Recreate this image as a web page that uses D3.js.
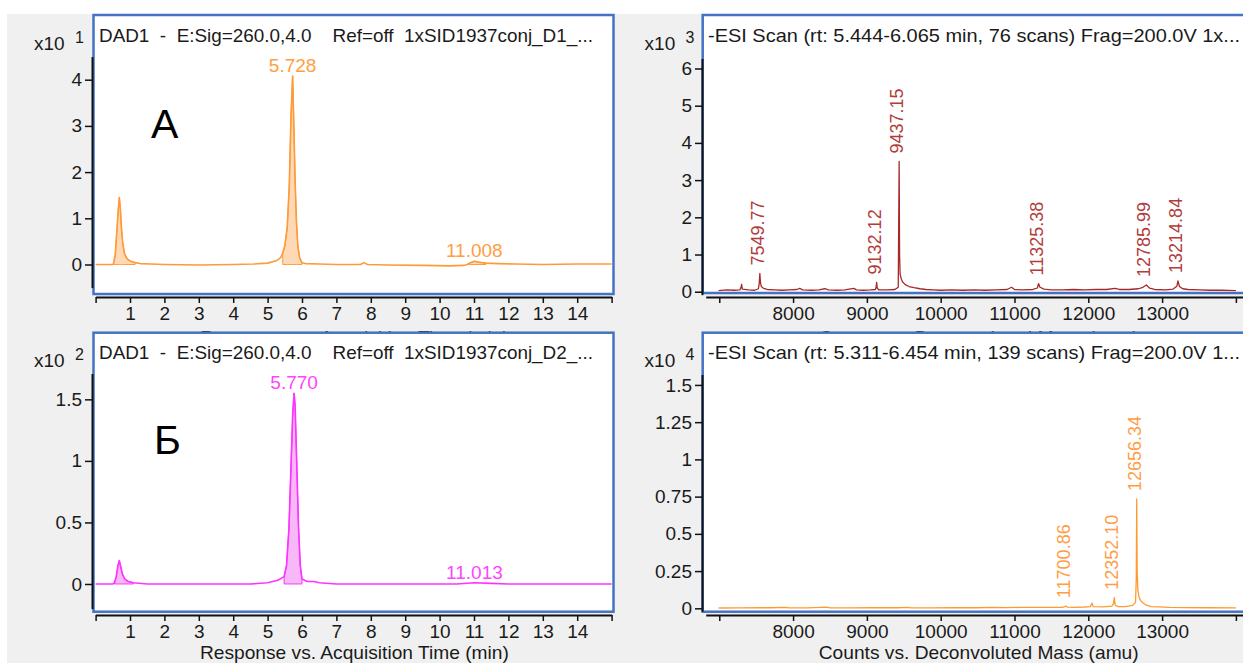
<!DOCTYPE html>
<html>
<head>
<meta charset="utf-8">
<script src="https://cdn.jsdelivr.net/npm/d3@7"></script>
<style>
  html, body { margin: 0; padding: 0; background: #fff; }
  svg { display: block; font-family: "Liberation Sans", Arial, sans-serif; }
  text { white-space: pre; }
</style>
</head>
<body>
<svg id="chart" width="1243" height="663"></svg>
<script>
// ---------- data ----------
// UV chromatogram A, response x10^1 vs time (min)
const chromA = [[0,0],[0.3,0],[0.5,0],[0.52,0.02],[0.57,0.2],[0.62,0.75],[0.66,1.2],[0.69,1.45],[0.72,1.2],[0.75,0.8],
  [0.79,0.45],[0.84,0.24],[0.89,0.15],[0.95,0.1],[1.03,0.07],[1.15,0.04],[1.3,0.02],[1.6,0.01],[2.0,0],[3.0,-0.01],
  [4.0,0],[4.6,0.01],[5.0,0.03],[5.25,0.08],[5.38,0.15],[5.44,0.25],[5.5,0.4],[5.57,0.8],[5.63,1.7],[5.68,3.2],
  [5.76,3.1],[5.8,1.8],[5.84,0.9],[5.88,0.4],[5.93,0.15],[6.0,0.04],[6.1,0.02],[6.5,0.01],[7.0,0],[7.7,0],
  [7.8,0.04],[7.9,0],[8.5,-0.01],[9.5,-0.02],[10.3,-0.03],[10.7,-0.02],[10.8,0],[10.9,0.04],[11.15,0.05],
  [11.35,0.03],[11.7,0.02],[12.2,0.01],[13,0],[14,0.01],[15,0.01]];
const peaksA = [[5.728, 4.08], [11.008, 0.07]];
const fillsA = [[0.52, 1.15], [5.44, 6.0], [10.8, 11.35]];

// UV chromatogram Б, response x10^2 vs time (min)
const chromB = [[0,0],[0.5,0],[0.55,0.01],[0.6,0.06],[0.65,0.15],[0.69,0.19],[0.73,0.14],[0.78,0.08],[0.85,0.04],
  [0.95,0.02],[1.1,0.01],[1.5,0],[4.5,0],[5.0,0.01],[5.3,0.03],[5.48,0.06],[5.55,0.15],[5.62,0.45],[5.68,0.95],
  [5.73,1.38],[5.8,1.45],[5.85,0.95],[5.9,0.45],[5.95,0.15],[6.0,0.04],[6.15,0.02],[6.35,0.02],[6.5,0.01],
  [7,0],[9,0],[10.5,0],[11.5,0.005],[12,0],[15,0]];
const peaksB = [[5.770, 1.55], [11.013, 0.01]];
const fillsB = [[0.55, 1.1], [5.48, 6.0]];

// Deconvoluted spectrum, top (counts x10^3 vs mass, amu)
const specTop = [[6990,0.03],[7100,0.05],[7200,0.04],[7280,0.05],[7295,0.12],[7303,0.2],[7312,0.07],[7400,0.05],
  [7480,0.04],[7530,0.08],[7540,0.2],[7558,0.25],[7570,0.14],[7600,0.09],[7650,0.06],[7750,0.05],[7850,0.04],
  [7950,0.05],[8050,0.06],[8090,0.09],[8130,0.05],[8250,0.04],[8350,0.05],[8430,0.08],[8480,0.05],[8600,0.04],
  [8700,0.05],[8823,0.09],[8860,0.05],[8950,0.04],[9050,0.05],[9115,0.06],[9125,0.12],[9140,0.1],[9160,0.05],
  [9280,0.05],[9380,0.06],[9425,0.12],[9443,1.0],[9450,0.48],[9465,0.35],[9485,0.26],[9520,0.19],[9570,0.14],
  [9640,0.11],[9720,0.08],[9800,0.06],[9900,0.05],[10000,0.04],[10150,0.05],[10300,0.04],[10450,0.05],
  [10600,0.04],[10750,0.05],[10900,0.06],[10960,0.12],[11000,0.06],[11100,0.05],[11250,0.06],[11310,0.1],
  [11345,0.12],[11400,0.07],[11500,0.05],[11650,0.05],[11800,0.06],[11950,0.05],[12100,0.06],[12250,0.06],
  [12360,0.09],[12420,0.06],[12550,0.06],[12680,0.08],[12740,0.12],[12830,0.1],[12900,0.06],[13050,0.05],
  [13150,0.07],[13200,0.15],[13235,0.14],[13280,0.08],[13350,0.06],[13500,0.05],[13650,0.04],[13800,0.04],[14000,0.03]];
const specTopPeaks = [[7549.77,0.49],[9132.12,0.25],[9437.15,3.5],[11325.38,0.22],[12785.99,0.18],[13214.84,0.29]];

// Deconvoluted spectrum, bottom (counts x10^4 vs mass, amu)
const specBot = [[6990,0.002],[7300,0.003],[7700,0.004],[7900,0.006],[7950,0.003],[8200,0.003],[8450,0.008],
  [8500,0.003],[8800,0.003],[9100,0.004],[9450,0.004],[9550,0.007],[9600,0.003],[9900,0.003],[10200,0.004],
  [10500,0.004],[10700,0.006],[10900,0.005],[11100,0.006],[11300,0.006],[11500,0.007],[11650,0.007],
  [11715,0.008],[11800,0.007],[11950,0.009],[12030,0.012],[12050,0.035],[12065,0.012],[12200,0.01],
  [12320,0.015],[12340,0.03],[12365,0.02],[12400,0.012],[12500,0.012],[12600,0.02],[12640,0.04],[12650,0.2],
  [12662,0.25],[12672,0.12],[12690,0.07],[12720,0.045],[12770,0.025],[12850,0.012],[12950,0.01],
  [13100,0.006],[13300,0.005],[13600,0.004],[14000,0.003]];
const specBotPeaks = [[11700.86,0.015],[12352.10,0.071],[12656.34,0.734]];

// axis ticks
const timeTicks = d3.range(0, 16);
const timeTickLabels = timeTicks.map(t => (t >= 1 && t <= 14) ? String(t) : "");
const massTicks = d3.range(7000, 15001, 1000);
const massTickLabels = massTicks.map(m => (m >= 8000 && m <= 13000) ? String(m) : "");
const yTicksA = [0, 1, 2, 3, 4];
const yTicksB = [0, 0.5, 1, 1.5];
const yTicksSpecTop = [0, 1, 2, 3, 4, 5, 6];
const yTicksSpecBot = [0, 0.25, 0.5, 0.75, 1, 1.25, 1.5];

// ---------- drawing ----------
const svg = d3.select("#chart");
const FONT = 19;
svg.append("rect").attr("width", 1243).attr("height", 663).attr("fill", "#fff");
svg.append("rect").attr("x", 7).attr("y", 14).attr("width", 1236).attr("height", 649).attr("fill", "#f0f0f0");

const withPeaks = (base, peaks) => d3.sort(base.concat(peaks), d => d[0]);

let clipId = 0;
function panel(cfg) {
  const g = svg.append("g");
  const [bx, by, bw, bh] = cfg.box;
  const x = d3.scaleLinear().domain(cfg.xDomain).range(cfg.xRange);
  const y = d3.scaleLinear().domain(cfg.yDomain).range(cfg.yRange);

  // x title; the upper row's title is cut off by the frame of the row below
  const tg = g.append("g");
  if (cfg.titleClipBottom) {
    const tid = "tclip" + (clipId++);
    g.append("clipPath").attr("id", tid).append("rect")
      .attr("x", 0).attr("y", 0).attr("width", 1243).attr("height", cfg.titleClipBottom);
    tg.attr("clip-path", `url(#${tid})`);
  }
  tg.append("text").attr("x", (cfg.xRange[0] + cfg.xRange[1]) / 2 + cfg.titleShift).attr("y", cfg.xAxisY + cfg.xTitleDy)
    .attr("text-anchor", "middle").attr("font-size", FONT).attr("fill", "#1a1a1a")
    .attr("textLength", cfg.xTitleLen).attr("lengthAdjust", "spacingAndGlyphs").text(cfg.xTitle);

  // frame
  g.append("rect").attr("x", bx).attr("y", by).attr("width", bw).attr("height", bh)
    .attr("fill", "#fff").attr("stroke", "#4472c4").attr("stroke-width", 2.5);

  // title
  g.append("text").attr("x", cfg.titleX).attr("y", by + 26.5).attr("font-size", FONT).attr("fill", "#1a1a1a")
    .attr("textLength", cfg.titleLen).attr("lengthAdjust", "spacingAndGlyphs").text(cfg.title);

  // exponent label
  g.append("text").attr("x", cfg.expX).attr("y", by + 34.5).attr("font-size", FONT).attr("fill", "#1a1a1a").text("x10");
  g.append("text").attr("x", cfg.expX + 41).attr("y", by + 27.5).attr("font-size", 16).attr("fill", "#1a1a1a").text(cfg.exp);

  // axes
  const ya = g.append("g").attr("transform", `translate(${cfg.yAxisX},0)`)
    .call(d3.axisLeft(y).tickValues(cfg.yTicks).tickFormat(d => String(d)).tickSize(7).tickSizeOuter(0).tickPadding(3));
  const xa = g.append("g").attr("transform", `translate(0,${cfg.xAxisY})`)
    .call(d3.axisBottom(x).tickValues(cfg.xTicks).tickFormat((d, i) => cfg.xTickLabels[i]).tickSize(6).tickSizeOuter(0).tickPadding(4));
  [ya, xa].forEach(a => {
    a.attr("font-family", null).attr("font-size", FONT);
    a.select(".domain").attr("stroke", "#111").attr("stroke-width", 2);
    a.selectAll(".tick line").attr("stroke", "#111").attr("stroke-width", 1.5);
    a.selectAll(".tick text").attr("fill", "#1a1a1a");
  });

  // plot contents, clipped to frame interior
  const id = "clip" + (clipId++);
  g.append("clipPath").attr("id", id).append("rect")
    .attr("x", bx + 1.2).attr("y", by + 1.2).attr("width", bw - 2.4).attr("height", bh - 2.4);
  const plot = g.append("g").attr("clip-path", `url(#${id})`);
  const trace = withPeaks(cfg.data, cfg.peaks);

  (cfg.fills || []).forEach(([a, b]) => {
    const seg = trace.filter(d => d[0] >= a && d[0] <= b);
    plot.append("path").datum(seg)
      .attr("d", d3.area().x(d => x(d[0])).y0(y(0)).y1(d => y(d[1])))
      .attr("fill", cfg.fillColor).attr("stroke", cfg.lineColor).attr("stroke-width", 1);
  });
  plot.append("path").datum(trace)
    .attr("d", d3.line().x(d => x(d[0])).y(d => y(d[1])))
    .attr("fill", "none").attr("stroke", cfg.lineColor).attr("stroke-width", cfg.lineWidth)
    .attr("stroke-linejoin", "round");

  if (cfg.rotatedLabels) {
    plot.selectAll("text.pk").data(cfg.peaks).join("text").attr("class", "pk")
      .attr("transform", d => `translate(${x(d[0]) + 4},${y(d[1]) - 8}) rotate(-90)`)
      .attr("font-size", 18).attr("fill", cfg.labelColor).text(d => d[0].toFixed(2));
  } else {
    plot.selectAll("text.pk").data(cfg.peaks).join("text").attr("class", "pk")
      .attr("x", d => x(d[0])).attr("y", d => y(d[1]) - 4).attr("text-anchor", "middle")
      .attr("font-size", FONT).attr("fill", cfg.labelColor).text(d => d[0].toFixed(3));
  }
  if (cfg.letter) {
    plot.append("text").attr("x", cfg.letter[1]).attr("y", cfg.letter[2]).attr("font-size", 41)
      .attr("fill", "#000").text(cfg.letter[0]);
  }
}

const chromTitleX = "Response vs. Acquisition Time (min)";
const specTitleX = "Counts vs. Deconvoluted Mass (amu)";

// top row
panel({
  box: [93.5, 15, 520, 279], xDomain: [0, 15], xRange: [95.6, 611.6], yDomain: [-0.5, 4.5], yRange: [287.6, 56.6],
  yAxisX: 92, xAxisY: 297, xTicks: timeTicks, xTickLabels: timeTickLabels, yTicks: yTicksA,
  title: "DAD1  -  E:Sig=260.0,4.0    Ref=off  1xSID1937conj_D1_...", titleX: 99, titleLen: 494,
  expX: 34, exp: "1", xTitle: chromTitleX, xTitleLen: 309, titleShift: 0.8, xTitleDy: 46.5, titleClipBottom: 332,
  data: chromA, peaks: peaksA, fills: fillsA, lineColor: "#ff9a38", fillColor: "#fdd9b5", labelColor: "#ff9d45",
  lineWidth: 1.6, letter: ["А", 151, 138]
});
panel({
  box: [702.7, 15, 560, 278], xDomain: [6816, 15000], xRange: [705.7, 1309.7], yDomain: [-0.08, 6.27], yRange: [294.7, 58.45],
  yAxisX: 702, xAxisY: 297, xTicks: massTicks, xTickLabels: massTickLabels, yTicks: yTicksSpecTop,
  title: "-ESI Scan (rt: 5.444-6.065 min, 76 scans) Frag=200.0V 1x...", titleX: 708, titleLen: 532,
  expX: 644.6, exp: "3", xTitle: specTitleX, xTitleLen: 320, titleShift: -29, xTitleDy: 46.5, titleClipBottom: 332,
  data: specTop, peaks: specTopPeaks, lineColor: "#a82828", labelColor: "#b23c3c", lineWidth: 1.3, rotatedLabels: true
});

// bottom row
panel({
  box: [93.5, 332.7, 520, 279], xDomain: [0, 15], xRange: [95.6, 611.6], yDomain: [-0.2, 1.71], yRange: [608.6, 373.5],
  yAxisX: 92, xAxisY: 615, xTicks: timeTicks, xTickLabels: timeTickLabels, yTicks: yTicksB,
  title: "DAD1  -  E:Sig=260.0,4.0    Ref=off  1xSID1937conj_D2_...", titleX: 99, titleLen: 494,
  expX: 34, exp: "2", xTitle: chromTitleX, xTitleLen: 309, titleShift: 0.8, xTitleDy: 44,
  data: chromB, peaks: peaksB, fills: fillsB, lineColor: "#ff33ff", fillColor: "#f7b8f7", labelColor: "#ff44ff",
  lineWidth: 1.6, letter: ["Б", 154, 454]
});
panel({
  box: [702.7, 332.7, 560, 279], xDomain: [6816, 15000], xRange: [705.7, 1309.7], yDomain: [-0.02, 1.57], yRange: [611.3, 374.5],
  yAxisX: 702, xAxisY: 615, xTicks: massTicks, xTickLabels: massTickLabels, yTicks: yTicksSpecBot,
  title: "-ESI Scan (rt: 5.311-6.454 min, 139 scans) Frag=200.0V 1...", titleX: 708, titleLen: 532,
  expX: 644.6, exp: "4", xTitle: specTitleX, xTitleLen: 320, titleShift: -29, xTitleDy: 44,
  data: specBot, peaks: specBotPeaks, lineColor: "#ff9a30", labelColor: "#ff9d45", lineWidth: 1.3, rotatedLabels: true
});
</script>
</body>
</html>
